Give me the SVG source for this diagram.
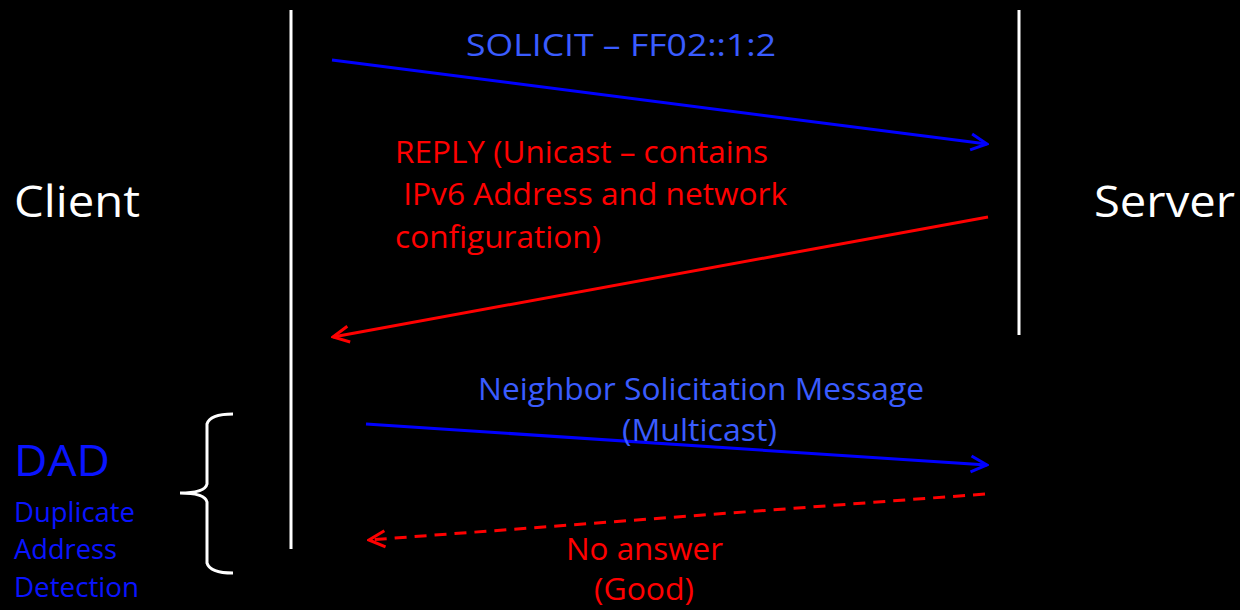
<svg xmlns="http://www.w3.org/2000/svg" width="1240" height="610" viewBox="0 0 1240 610">
<style>
text{font-family:"Open Sans","Liberation Sans",sans-serif}
.w{fill:#ffffff;font-size:44px}
.b{fill:#3a5cff;font-size:31px}
.r{fill:#ff0000;font-size:31px}
.d{fill:#0a14ff}
.life{stroke:#ffffff;stroke-width:3;fill:none}
.blue{stroke:#0000ff;stroke-width:3;fill:none}
.red{stroke:#ff0000;stroke-width:3;fill:none}
</style>
<defs>
<marker id="ab" viewBox="0 0 20 20" refX="18" refY="10" markerWidth="20" markerHeight="20" markerUnits="userSpaceOnUse" orient="auto"><path d="M2,2 L18,10 L2,18" fill="none" stroke="#0000ff" stroke-width="3"/></marker>
<marker id="ar" viewBox="0 0 20 20" refX="18" refY="10" markerWidth="20" markerHeight="20" markerUnits="userSpaceOnUse" orient="auto"><path d="M2,2 L18,10 L2,18" fill="none" stroke="#ff0000" stroke-width="3"/></marker>
</defs>
<rect width="1240" height="610" fill="#000000"/>
<g id="client">
<line class="life" x1="291" y1="10" x2="291" y2="549"/>
<text class="w" x="14" y="217" textLength="126" lengthAdjust="spacingAndGlyphs">Client</text>
</g>
<g id="server">
<line class="life" x1="1019" y1="10" x2="1019" y2="335"/>
<text class="w" x="1094" y="217" textLength="141" lengthAdjust="spacingAndGlyphs">Server</text>
</g>
<g id="dad">
<text class="d" x="14" y="476" font-size="44" textLength="96" lengthAdjust="spacingAndGlyphs">DAD</text>
<text class="d" x="14" y="522" font-size="28" textLength="121" lengthAdjust="spacingAndGlyphs">Duplicate</text>
<text class="d" x="14" y="559" font-size="28" textLength="103" lengthAdjust="spacingAndGlyphs">Address</text>
<text class="d" x="14" y="597" font-size="28" textLength="125" lengthAdjust="spacingAndGlyphs">Detection</text>
<path class="life" d="M233,414 Q210,414 207,424 L207,484 Q205,493 180,493 Q205,493 207,502 L207,563 Q210,573 233,573"/>
</g>
<g id="connectors">
<line class="blue" x1="332" y1="60" x2="987" y2="144" marker-end="url(#ab)"/>
<line class="red" x1="988" y1="217" x2="333" y2="337" marker-end="url(#ar)"/>
<line class="blue" x1="366" y1="424" x2="987" y2="465" marker-end="url(#ab)"/>
<line class="red" x1="985" y1="494" x2="369" y2="540" stroke-dasharray="12,8" marker-end="url(#ar)"/>
</g>
<g id="labels">
<text class="b" x="466" y="56" textLength="310" lengthAdjust="spacingAndGlyphs">SOLICIT – FF02::1:2</text>
<text class="r" x="395" y="163" textLength="373" lengthAdjust="spacingAndGlyphs">REPLY (Unicast – contains</text>
<text class="r" x="395" y="205" xml:space="preserve" textLength="392" lengthAdjust="spacingAndGlyphs"> IPv6 Address and network</text>
<text class="r" x="395" y="248" textLength="206" lengthAdjust="spacingAndGlyphs">configuration)</text>
<text class="b" x="478" y="400" textLength="446" lengthAdjust="spacingAndGlyphs">Neighbor Solicitation Message</text>
<text class="b" x="622" y="441" textLength="155" lengthAdjust="spacingAndGlyphs">(Multicast)</text>
<text class="r" x="566" y="560" textLength="157" lengthAdjust="spacingAndGlyphs">No answer</text>
<text class="r" x="594" y="600" textLength="100" lengthAdjust="spacingAndGlyphs">(Good)</text>
</g>
</svg>
